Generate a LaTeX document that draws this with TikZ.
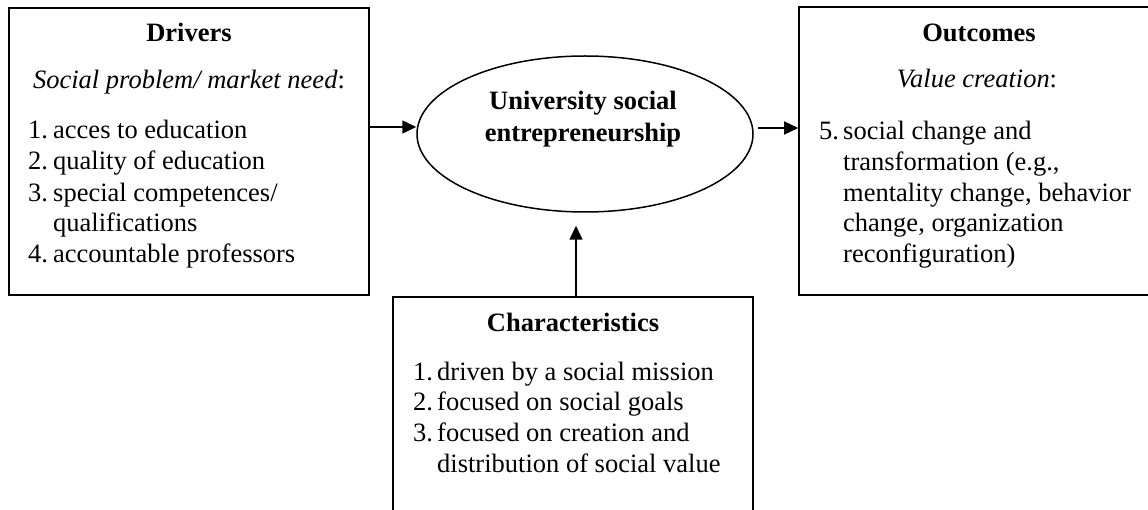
\documentclass[tikz,border=0pt]{standalone}
\usepackage{fontspec}
\setmainfont{Liberation Serif}
\usetikzlibrary{arrows.meta,shapes.geometric}
\newcommand\bodyfont{\fontsize{26.5}{31}\selectfont}
\begin{document}
\begin{tikzpicture}[x=1pt,y=-1pt,
  box/.style={draw, line width=1.6pt, inner sep=0pt, minimum width=360pt},
  txt/.style={inner sep=0pt, anchor=base west, font=\bodyfont},
  ctr/.style={inner sep=0pt, anchor=base, font=\bodyfont},
  arr/.style={line width=1.5pt, -{Triangle[length=14pt,width=13pt]}}]
\useasboundingbox (0,0) rectangle (1148,510);
\fill[white] (0,0) rectangle (1148,510);
\clip (0,0) rectangle (1148,510);
% boxes
\node[box, minimum height=287pt] (drivers) at (189,151.5) {};
\node[box, minimum height=288pt] (outcomes) at (979,151) {};
\node[box, minimum height=263pt] (charac) at (573,428.5) {};
\node[draw, ellipse, line width=1.5pt, inner sep=0pt, minimum width=336pt, minimum height=156pt] (usc) at (585,134) {};
% ellipse text
\node[ctr, font=\bodyfont\bfseries] (u1) at (583,110) {University social};
\node[ctr, font=\bodyfont\bfseries] (u2) at (583,142) {entrepreneurship};
% drivers text
\node[ctr, font=\bodyfont\bfseries] (dt) at (189,42) {Drivers};
\node[ctr] (ds) at (189,89) {\textit{Social problem/ market need}:};
\node[txt] (dn1) at (28,139) {1.};
\node[txt] (d1) at (53,139) {acces to education};
\node[txt] (dn2) at (28,170) {2.};
\node[txt] (d2) at (53,170) {quality of education};
\node[txt] (dn3) at (28,202) {3.};
\node[txt] (d3) at (53,202) {special competences/};
\node[txt] (d3b) at (53,232) {qualifications};
\node[txt] (dn4) at (28,263) {4.};
\node[txt] (d4) at (53,263) {accountable professors};
% outcomes text
\node[ctr, font=\bodyfont\bfseries] (ot) at (979,42) {Outcomes};
\node[ctr] (os) at (977,88) {\textit{Value creation}:};
\node[txt] (on5) at (819,140) {5.};
\node[txt] (o1) at (843,140) {social change and};
\node[txt] (o2) at (843,171) {transformation (e.g.,};
\node[txt] (o3) at (843,202) {mentality change, behavior};
\node[txt] (o4) at (843,232) {change, organization};
\node[txt] (o5) at (843,263) {reconfiguration)};
% characteristics text
\node[ctr, font=\bodyfont\bfseries] (ct) at (573,332) {Characteristics};
\node[txt] (cn1) at (413,380) {1.};
\node[txt] (c1) at (437,380) {driven by a social mission};
\node[txt] (cn2) at (413,410) {2.};
\node[txt] (c2) at (437,410) {focused on social goals};
\node[txt] (cn3) at (413,441) {3.};
\node[txt] (c3) at (437,441) {focused on creation and};
\node[txt] (c3b) at (437,472) {distribution of social value};
% connectors
\coordinate (lin) at ([yshift=7pt]usc.west);
\coordinate (rout) at ([xshift=4pt,yshift=6pt]usc.east);
\coordinate (bin) at ([yshift=-13pt]usc.south -| charac.north);
\draw[arr] (drivers.east |- lin) -- (lin);
\draw[arr] (rout) -- (outcomes.west |- rout);
\draw[arr] ([xshift=3pt]charac.north) -- ([xshift=3pt]bin);
\end{tikzpicture}
\end{document}
